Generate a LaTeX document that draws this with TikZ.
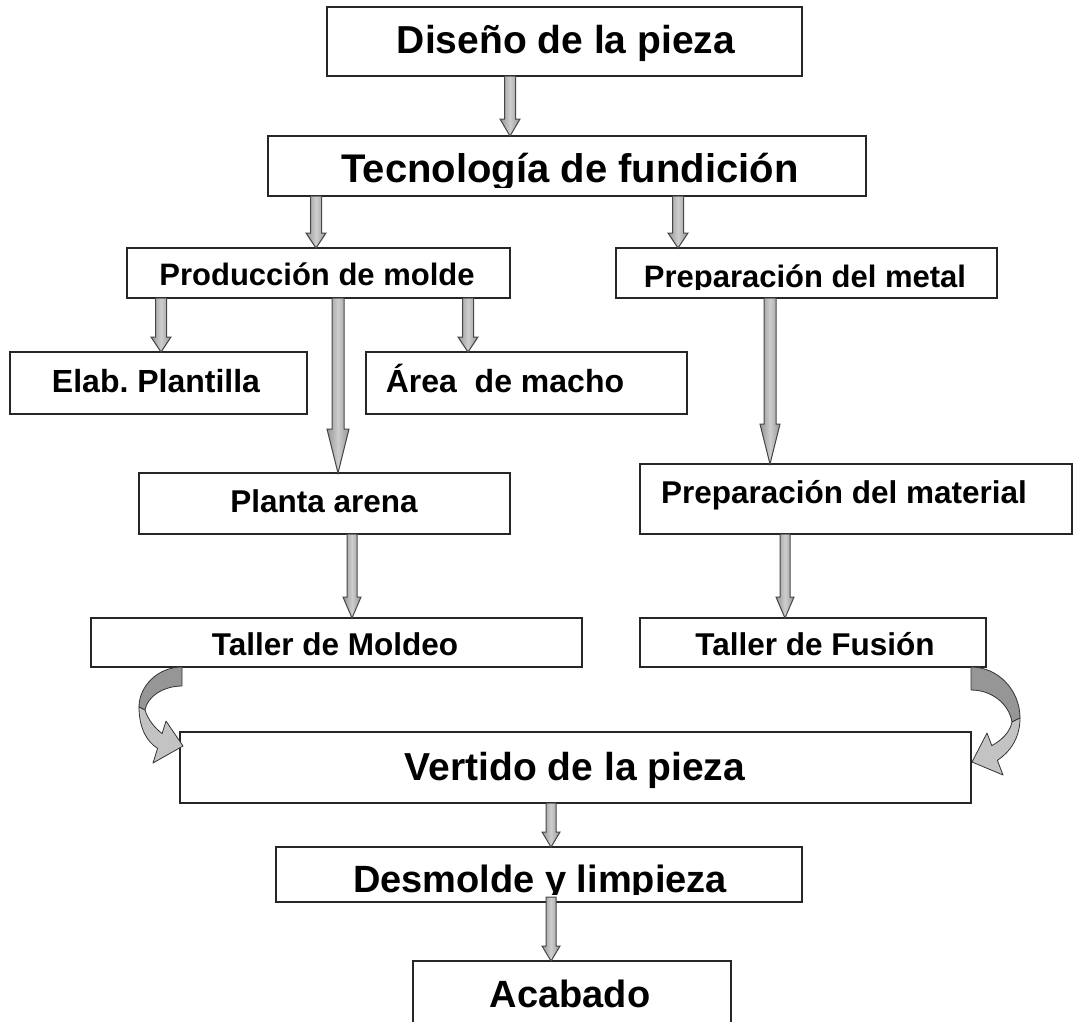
\documentclass[tikz,border=0pt]{standalone}
\usepackage{fontspec}
\setmainfont{Liberation Sans}
\usetikzlibrary{calc}
\definecolor{arredge}{RGB}{150,150,150}
\definecolor{arrmid}{RGB}{205,205,205}
\definecolor{arrline}{RGB}{70,70,70}
\definecolor{cdark}{RGB}{150,150,150}
\definecolor{clight}{RGB}{195,195,195}
\newcommand\blockarr[7]{%
  \path[barrow] let \p1=(#1.south), \p2=(#2.north) in
    (#3pt-#4pt,\y1+#7pt) -- (#3pt-#4pt,\y2+#6pt) -- (#3pt-#5pt,\y2+#6pt) -- (#3pt,\y2)
    -- (#3pt+#5pt,\y2+#6pt) -- (#3pt+#4pt,\y2+#6pt) -- (#3pt+#4pt,\y1+#7pt) -- cycle;}
\begin{document}
\begin{tikzpicture}[x=1pt,y=-1pt,
  box/.style={draw=black!85, line width=1.2pt, fill=white, anchor=north west, inner sep=0pt, outer sep=0pt},
  lbl/.style={font=\bfseries\fontsize{#1}{#1}\selectfont, anchor=base, inner sep=0pt},
  barrow/.style={draw=arrline, line width=1pt, line join=miter, left color=arredge, right color=arredge, middle color=arrmid},
  curv/.style={draw=black!80, line width=0.8pt, line join=round}]
\useasboundingbox (0,0) rectangle (1073,1021);
\clip (0,0) rectangle (1073,1021);
% boxes
\node[box, minimum width=475pt, minimum height=69pt] (dis) at (327,7) {};
\draw[line width=2.5pt, black!85] (dis.north west) -- (dis.north east);
\draw[line width=2.5pt, black!85] (dis.south west) -- (dis.south east);
\node[box, minimum width=598pt, minimum height=60pt] (tec) at (268,136) {};
\node[box, minimum width=383pt, minimum height=50pt] (prod) at (127,248) {};
\node[box, minimum width=381pt, minimum height=50pt] (pmet) at (616,248) {};
\node[box, minimum width=297pt, minimum height=62pt] (elab) at (10,352) {};
\node[box, minimum width=321pt, minimum height=62pt] (area) at (366,352) {};
\node[box, minimum width=371pt, minimum height=61pt] (planta) at (139,473) {};
\node[box, minimum width=432pt, minimum height=70pt] (pmat) at (640,464) {};
\node[box, minimum width=491pt, minimum height=49pt] (tmol) at (91,618) {};
\node[box, minimum width=346pt, minimum height=49pt] (tfus) at (640,618) {};
\node[box, minimum width=791pt, minimum height=71pt] (vert) at (180,732) {};
\node[box, minimum width=526pt, minimum height=55pt] (desm) at (276,847) {};
\node[box, minimum width=318pt, minimum height=80pt] (acab) at (413,961) {};
% labels
\node[lbl=39] (tdis) at (566,53) {Diseño de la pieza};
\begin{scope}
\clip (268,136) rectangle (866,187);
\node[lbl=40] (ttec) at (570,182) {Tecnología de fundición};
\end{scope}
\node[lbl=31] (tprod) at (317,285) {Producción de molde};
\begin{scope}
\clip (616,248) rectangle (997,289);
\node[lbl=31] (tpmet) at (805,287) {Preparación del metal};
\end{scope}
\node[lbl=32] (telab) at (156,392) {Elab.\ Plantilla};
\node[lbl=32] (tarea) at (505,392) {Área~~de macho};
\node[lbl=31.5] (tplanta) at (324,512) {Planta arena};
\node[lbl=31.5] (tpmat) at (844,503) {Preparación del material};
\node[lbl=31.5] (ttmol) at (335,655) {Taller de Moldeo};
\node[lbl=31.5] (ttfus) at (815,655) {Taller de Fusión};
\node[lbl=39] (tvert) at (575,780) {Vertido de la pieza};
\begin{scope}
\clip (276,847) rectangle (802,894);
\node[lbl=38] (tdesm) at (540,892) {Desmolde y limpieza};
\end{scope}
\node[lbl=38] (tacab) at (570,1007) {Acabado};
% straight block arrows
\blockarr{dis}{tec}{510}{5.5}{10}{17}{0}
\blockarr{tec}{prod}{316}{5.5}{10}{15}{0}
\blockarr{tec}{pmet}{678}{5.5}{10}{15}{0}
\blockarr{prod}{elab}{161}{5.5}{10}{15}{0}
\blockarr{prod}{planta}{338}{6}{11}{44}{0}
\blockarr{prod}{area}{468}{5.5}{10}{15}{0}
\blockarr{pmet}{pmat}{770}{6}{10}{40}{0}
\blockarr{planta}{tmol}{352}{5}{9}{21}{0}
\blockarr{pmat}{tfus}{785}{5}{9}{21}{0}
\blockarr{vert}{desm}{551}{5}{9}{15}{0}
\blockarr{desm}{acab}{551}{5}{9}{15}{5}
% curved arrow: Taller de Moldeo -> Vertido
\coordinate (lt1) at (tmol.south -| 182,0);
\filldraw[curv, fill=cdark] (lt1) .. controls (158,667) and (139,686) .. (139,707)
  -- (145,710) .. controls (147,697) and (163,686) .. (182,686) -- cycle;
\filldraw[curv, fill=clight] (139,707) .. controls (139,728) and (147,742) .. (157.6,748.3)
  -- (153,763) -- (183,746) -- (166,721) -- (162.1,733.6)
  .. controls (155,728) and (148,720) .. (145,710) -- cycle;
% curved arrow: Taller de Fusion -> Vertido
\coordinate (rt1) at (tfus.south -| 971,0);
\filldraw[curv, fill=cdark] (rt1) .. controls (998,667) and (1020,690) .. (1020,718)
  -- (1012,722) .. controls (1009,704) and (992,690) .. (971,690) -- cycle;
\filldraw[curv, fill=clight] (1020,718) .. controls (1020,738) and (1010,752) .. (997.4,760.3)
  -- (1003,775) -- (972,762) -- (987,733) -- (991.8,745.6)
  .. controls (1002,740) and (1010,732) .. (1012,722) -- cycle;
\end{tikzpicture}
\end{document}
